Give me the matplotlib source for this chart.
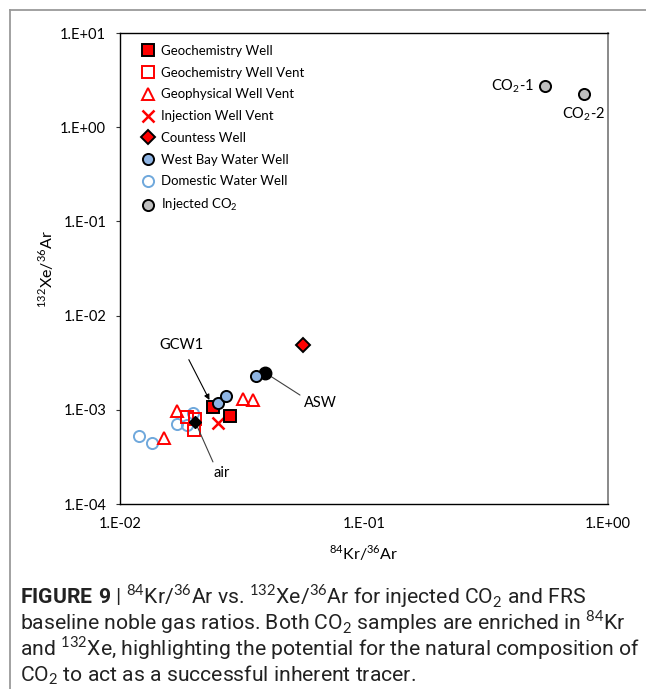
import numpy as np
import matplotlib
matplotlib.use("Agg")
import matplotlib.pyplot as plt
from matplotlib.lines import Line2D
from matplotlib.ticker import FixedLocator, FuncFormatter, NullLocator

# chart font (Calibri-like) and caption font
chart_font = "Lato"
cap_font = "Roboto"

plt.rcParams["font.family"] = [chart_font, "DejaVu Sans"]
plt.rcParams["mathtext.fontset"] = "custom"
plt.rcParams["mathtext.rm"] = chart_font
plt.rcParams["mathtext.bf"] = cap_font + ":bold"

# ---- data (84Kr/36Ar, 132Xe/36Ar) ----
geochem_well_x = [0.0241, 0.0283]
geochem_well_y = [1.06e-3, 8.7e-4]

geochem_vent_x = [0.0188, 0.0203, 0.0201]
geochem_vent_y = [8.4e-4, 8.0e-4, 6.1e-4]

geophys_vent_x = [0.0152, 0.0171, 0.0320, 0.0352]
geophys_vent_y = [4.97e-4, 9.7e-4, 1.30e-3, 1.27e-3]

inj_vent_x = [0.0251]
inj_vent_y = [7.2e-4]

countess_x = [0.0564]
countess_y = [4.87e-3]

westbay_x = [0.0251, 0.0272, 0.0361]
westbay_y = [1.17e-3, 1.40e-3, 2.29e-3]

domestic_x = [0.0120, 0.0135, 0.0171, 0.0188, 0.0199]
domestic_y = [5.27e-4, 4.40e-4, 7.0e-4, 6.9e-4, 9.25e-4]

co2_x = [0.552, 0.797]
co2_y = [2.75, 2.23]
co2_names = ["CO$_2$-1", "CO$_2$-2"]

asw_x, asw_y = 0.0393, 2.48e-3
air_x, air_y = 0.0203, 7.5e-4

x_ticks = [1e-2, 1e-1, 1e0]
y_ticks = [1e-4, 1e-3, 1e-2, 1e-1, 1e0, 1e1]

RED = "#FF0000"
BLUE_FILL = "#8EB4E3"
BLUE_EDGE = "#6FA8DC"
GRAY = "#BFBFBF"

fig = plt.figure(figsize=(6.46, 6.89), dpi=100)
ax = fig.add_axes([0.1858, 0.2685, 0.7554, 0.6836])

ms = 8
ew = 1.4
ax.plot(domestic_x, domestic_y, "o", ms=ms, mfc="none", mec=BLUE_EDGE, mew=ew,
        label="Domestic Water Well", zorder=2)
ax.plot(geophys_vent_x, geophys_vent_y, "^", ms=ms + 1, mfc="none", mec=RED, mew=ew,
        label="Geophysical Well Vent", zorder=3)
ax.plot(geochem_vent_x, geochem_vent_y, "s", ms=ms, mfc="none", mec=RED, mew=ew,
        label="Geochemistry Well Vent", zorder=3)
ax.plot(inj_vent_x, inj_vent_y, "x", ms=ms, mec=RED, mew=1.8,
        label="Injection Well Vent", zorder=3)
ax.plot(geochem_well_x, geochem_well_y, "s", ms=ms, mfc=RED, mec="black", mew=ew,
        label="Geochemistry Well", zorder=4)
ax.plot(countess_x, countess_y, "D", ms=ms - 1, mfc=RED, mec="black", mew=ew,
        label="Countess Well", zorder=4)
ax.plot(westbay_x, westbay_y, "o", ms=ms, mfc=BLUE_FILL, mec="black", mew=ew,
        label="West Bay Water Well", zorder=5)
ax.plot(co2_x, co2_y, "o", ms=ms, mfc=GRAY, mec="black", mew=ew,
        label="Injected CO$_2$", zorder=5)
ax.plot([asw_x], [asw_y], "o", ms=ms + 1, mfc="black", mec="black", zorder=4)
ax.plot([air_x], [air_y], "D", ms=ms - 2, mfc="black", mec="black", zorder=6)

ax.set_xscale("log")
ax.set_yscale("log")
ax.set_xlim(1e-2, 1e0)
ax.set_ylim(1e-4, 1e1)
fmt = FuncFormatter(lambda v, p: "1.E{:+03d}".format(int(round(np.log10(v)))))
ax.xaxis.set_major_locator(FixedLocator(x_ticks))
ax.yaxis.set_major_locator(FixedLocator(y_ticks))
ax.xaxis.set_minor_locator(NullLocator())
ax.yaxis.set_minor_locator(NullLocator())
ax.xaxis.set_major_formatter(fmt)
ax.yaxis.set_major_formatter(fmt)
ax.tick_params(axis="x", length=0, pad=9, labelsize=10.5)
ax.tick_params(axis="y", length=3, width=0.8, pad=7, labelsize=10.5, color="#333333")
for side in ["top", "left", "bottom"]:
    ax.spines[side].set_color("black")
    ax.spines[side].set_linewidth(1.0)
ax.spines["right"].set_color("#808080")
ax.spines["right"].set_linewidth(1.3)

ax.set_xlabel("$^{84}$Kr/$^{36}$Ar", fontsize=11.5, labelpad=9)
ax.set_ylabel("$^{132}$Xe/$^{36}$Ar", fontsize=11.5, labelpad=3)

# legend order as in the figure
handles, labels = ax.get_legend_handles_labels()
order = ["Geochemistry Well", "Geochemistry Well Vent", "Geophysical Well Vent",
         "Injection Well Vent", "Countess Well", "West Bay Water Well",
         "Domestic Water Well", "Injected CO$_2$"]
hmap = dict(zip(labels, handles))
ax.legend([hmap[k] for k in order], order, loc="upper left",
          bbox_to_anchor=(0.02, 1.0), frameon=False, fontsize=9.5,
          numpoints=1, handlelength=1.0, handletextpad=0.5, labelspacing=0.74)

# annotations
ax.annotate("GCW1", xy=(geochem_well_x[0], geochem_well_y[0]), xytext=(-23, 45),
            textcoords="offset points", ha="center", va="center", fontsize=10.5,
            arrowprops=dict(arrowstyle="-|>", color="black", lw=0.8,
                            shrinkA=4, shrinkB=6, mutation_scale=8))
ax.annotate("ASW", xy=(asw_x, asw_y), xytext=(28, -22),
            textcoords="offset points", ha="left", va="center", fontsize=10.5,
            arrowprops=dict(arrowstyle="-", color="#404040", lw=0.8,
                            relpos=(0, 0.9), shrinkA=1, shrinkB=3))
ax.annotate("air", xy=(air_x, air_y), xytext=(13, -37),
            textcoords="offset points", ha="left", va="center", fontsize=10.5,
            arrowprops=dict(arrowstyle="-", color="#404040", lw=0.8,
                            relpos=(0.1, 1.0), shrinkA=1, shrinkB=0))
ax.annotate(co2_names[0], xy=(co2_x[0], co2_y[0]), xytext=(-8, 0),
            textcoords="offset points", ha="right", va="center", fontsize=10.5)
ax.annotate(co2_names[1], xy=(co2_x[1], co2_y[1]), xytext=(0, -14),
            textcoords="offset points", ha="center", va="center", fontsize=10.5)

# outer page frame
fig.add_artist(Line2D([0.0155, 1.0], [0.9855, 0.9855], color="#9A9A9A", lw=1.3,
                      transform=fig.transFigure))
fig.add_artist(Line2D([0.0155, 0.0155], [0.0, 0.9855], color="#9A9A9A", lw=1.3,
                      transform=fig.transFigure))

# caption
cap_lines = [
    r"$\mathbf{FIGURE\ 9}$ | $^{84}$Kr/$^{36}$Ar vs. $^{132}$Xe/$^{36}$Ar for injected CO$_2$ and FRS",
    r"baseline noble gas ratios. Both CO$_2$ samples are enriched in $^{84}$Kr",
    r"and $^{132}$Xe, highlighting the potential for the natural composition of",
    r"CO$_2$ to act as a successful inherent tracer.",
]
cap_y = [604, 630, 656, 681]
for s, yy in zip(cap_lines, cap_y):
    fig.text(0.031, 1 - yy / 689, s, family=[cap_font, "DejaVu Sans"],
             fontsize=15.2, ha="left", va="baseline", color="#222222")

fig.savefig("out.png", dpi=100)
